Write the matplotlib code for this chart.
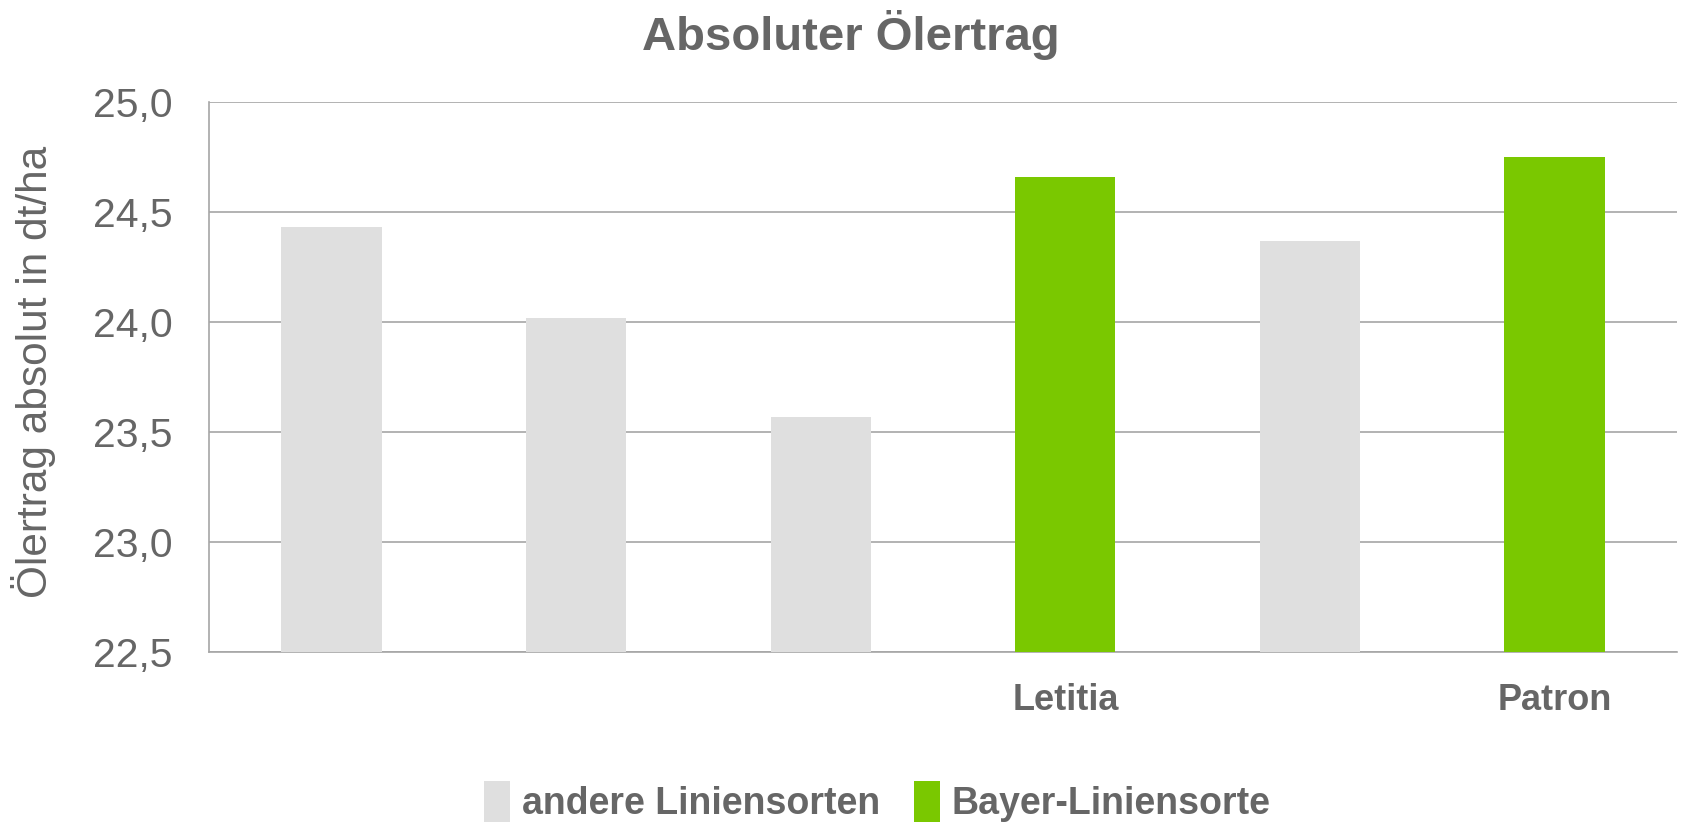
import matplotlib
matplotlib.use("Agg")
import matplotlib.pyplot as plt
from matplotlib.patches import Patch

# data
sorten = ["", "", "", "Letitia", "", "Patron"]
ertrag = [24.43, 24.02, 23.57, 24.66, 24.37, 24.75]
gruppe = ["andere", "andere", "andere", "bayer", "andere", "bayer"]
y_ticks = [22.5, 23.0, 23.5, 24.0, 24.5, 25.0]
y_labels = ["22,5", "23,0", "23,5", "24,0", "24,5", "25,0"]
legend_labels = ["andere Liniensorten", "Bayer-Liniensorte"]

farbe = {"andere": "#DFDFDF", "bayer": "#7AC800"}
text_col = "#666666"
grid_col = "#A6A6A6"

plt.rcParams["font.family"] = ["Liberation Sans", "DejaVu Sans"]

fig = plt.figure(figsize=(16.82, 8.24), dpi=100)
ax = fig.add_axes([0.1243, 0.2087, 0.8727, 0.6675])

x = list(range(len(ertrag)))
ax.bar(x, [v - 22.5 for v in ertrag], bottom=22.5, width=0.41,
       color=[farbe[g] for g in gruppe], zorder=3)

ax.set_xlim(-0.5, len(ertrag) - 0.5)
ax.set_ylim(22.5, 25.0)
ax.set_yticks(y_ticks)
ax.set_yticklabels(y_labels)
ax.set_xticks(x)
ax.set_xticklabels(sorten, fontweight="bold")

ax.tick_params(axis="y", length=0, pad=26, labelsize=29.5, labelcolor=text_col)
ax.tick_params(axis="x", length=0, pad=22, labelsize=26, labelcolor=text_col)

ax.grid(axis="y", color=grid_col, linewidth=1.2, zorder=0)
for s in ["top", "right"]:
    ax.spines[s].set_visible(False)
for s in ["left", "bottom"]:
    ax.spines[s].set_color(grid_col)
    ax.spines[s].set_linewidth(1.2)

ax.set_ylabel("Ölertrag absolut in dt/ha", fontsize=30.5, color=text_col)
ax.yaxis.set_label_coords(-0.104, 0.51)

fig.text(0.506, 0.958, "Absoluter Ölertrag", ha="center", va="center",
         fontsize=34, fontweight="bold", color=text_col)

handles = [Patch(facecolor=farbe["andere"]), Patch(facecolor=farbe["bayer"])]
leg = fig.legend(handles, legend_labels, loc="center", ncol=2,
                 bbox_to_anchor=(0.5215, 0.027), frameon=False,
                 prop={"size": 27, "weight": "bold"},
                 handlelength=0.7, handleheight=1.3, handletextpad=0.3,
                 columnspacing=0.9, borderpad=0)
for t in leg.get_texts():
    t.set_color(text_col)

fig.savefig("out.png", dpi=100)
